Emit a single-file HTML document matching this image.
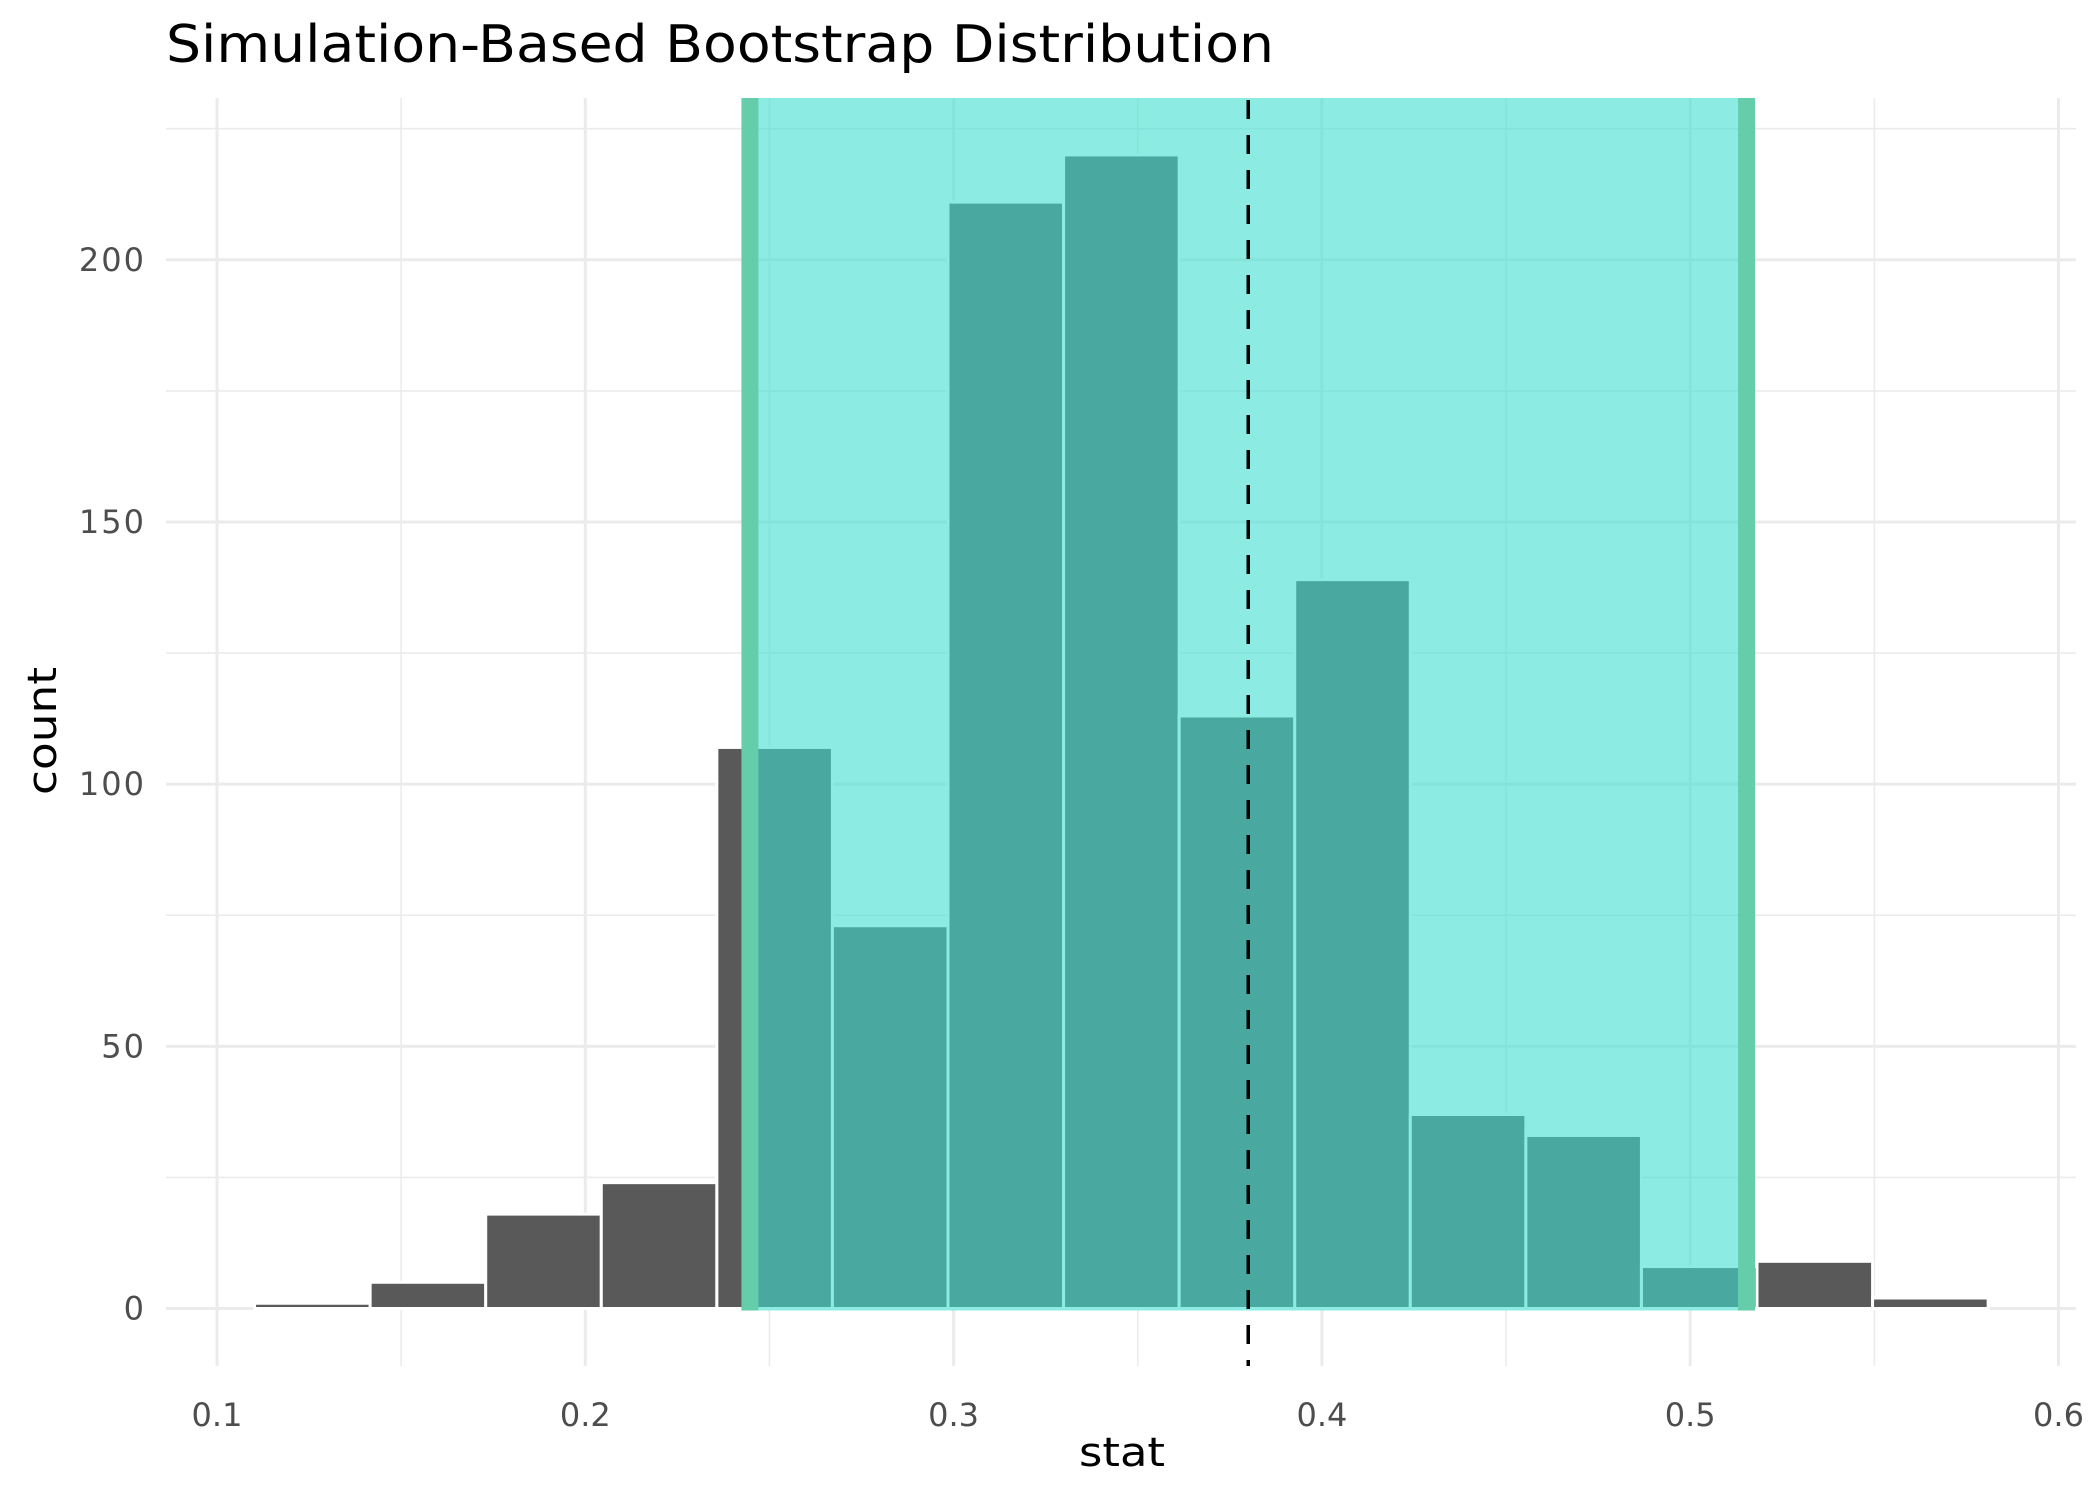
<!DOCTYPE html>
<html><head><meta charset="utf-8"><style>
body{margin:0;background:#fff}
svg{display:block;font-family:"DejaVu Sans","Liberation Sans",sans-serif}
</style></head><body>
<svg id="chart" width="2100" height="1500" viewBox="0 0 2100 1500" xmlns="http://www.w3.org/2000/svg">
<text x="166" y="62" font-size="52" fill="#000" textLength="1108" lengthAdjust="spacingAndGlyphs">Simulation-Based Bootstrap Distribution</text>
<g id="grid"></g><g id="bars"></g><g id="overlay"></g><g id="axes"></g>
<text x="1122" y="1466" font-size="40" text-anchor="middle" fill="#000" textLength="86" lengthAdjust="spacingAndGlyphs">stat</text>
<text x="0" y="0" font-size="40" text-anchor="middle" fill="#000" transform="translate(56,731) rotate(-90)" textLength="128" lengthAdjust="spacingAndGlyphs">count</text>
</svg>
<script>
const binStart = 0.1102;
const binWidth = 0.03138;
const counts = [1, 5, 18, 24, 107, 73, 211, 220, 113, 139, 37, 33, 8, 9, 2];
const xTicks = [0.1, 0.2, 0.3, 0.4, 0.5, 0.6];
const xTickLabels = ["0.1","0.2","0.3","0.4","0.5","0.6"];
const yTicks = [0, 50, 100, 150, 200];
const yTickLabels = ["0","50","100","150","200"];
const ciLower = 0.2447;
const ciUpper = 0.5153;
const pointEstimate = 0.38;

const P = {l:166, r:2076, t:98, b:1366};
const X = v => 217 + (v - 0.1) * 3683;
const Y = v => 1308.5 - v * 5.2435;
const NS = "http://www.w3.org/2000/svg";
function mk(tag, attrs, parent){const e=document.createElementNS(NS,tag);for(const k in attrs)e.setAttribute(k,attrs[k]);parent.appendChild(e);return e;}
const grid=document.getElementById('grid'), bars=document.getElementById('bars'), ov=document.getElementById('overlay'), ax=document.getElementById('axes');
for(let i=0;i<xTicks.length-1;i++){const v=(xTicks[i]+xTicks[i+1])/2;
 const l=mk('line',{x1:X(v),x2:X(v),y1:P.t,y2:P.b,stroke:'#EBEBEB','stroke-width':1.6},grid);
 
 }
for(let i=0;i<yTicks.length;i++){const v=yTicks[i]+25;
 const l=mk('line',{x1:P.l,x2:P.r,y1:Y(v),y2:Y(v),stroke:'#EBEBEB','stroke-width':1.6},grid);
 
 }
xTicks.forEach((v,i)=>{
 const l=mk('line',{x1:X(v),x2:X(v),y1:P.t,y2:P.b,stroke:'#EBEBEB','stroke-width':3},grid);
 
 
 const t=mk('text',{x:X(v),y:1426,'font-size':32,fill:'#4D4D4D','text-anchor':'middle'},ax);
 t.textContent=xTickLabels[i];
 
 });
yTicks.forEach((v,i)=>{
 const l=mk('line',{x1:P.l,x2:P.r,y1:Y(v),y2:Y(v),stroke:'#EBEBEB','stroke-width':3},grid);
 
 
 const t=mk('text',{x:146,y:Y(v)+11,'font-size':32,fill:'#4D4D4D','text-anchor':'end','letter-spacing':2},ax);
 t.textContent=yTickLabels[i];
 
 });
counts.forEach((c,i)=>{
 const x0=X(binStart+i*binWidth), x1=X(binStart+(i+1)*binWidth);
 const r=mk('rect',{x:x0,y:Y(c),width:x1-x0,height:Y(0)-Y(c),fill:'#595959',stroke:'#fff','stroke-width':3},bars);
 
 });
const sh=mk('rect',{x:X(ciLower),y:P.t,width:X(ciUpper)-X(ciLower),height:Y(0)-P.t+2,fill:'rgb(64,224,208)','fill-opacity':0.6},ov);


[ciLower,ciUpper].forEach(v=>{
 const l=mk('line',{x1:X(v),x2:X(v),y1:P.t,y2:Y(0)+2,stroke:'#66CDAA','stroke-width':17},ov);
 
 });
const d=mk('line',{x1:X(pointEstimate),x2:X(pointEstimate),y1:P.t+2,y2:P.b,stroke:'#000','stroke-width':3.5,'stroke-dasharray':'19 16'},ov);


</script>
</body></html>
